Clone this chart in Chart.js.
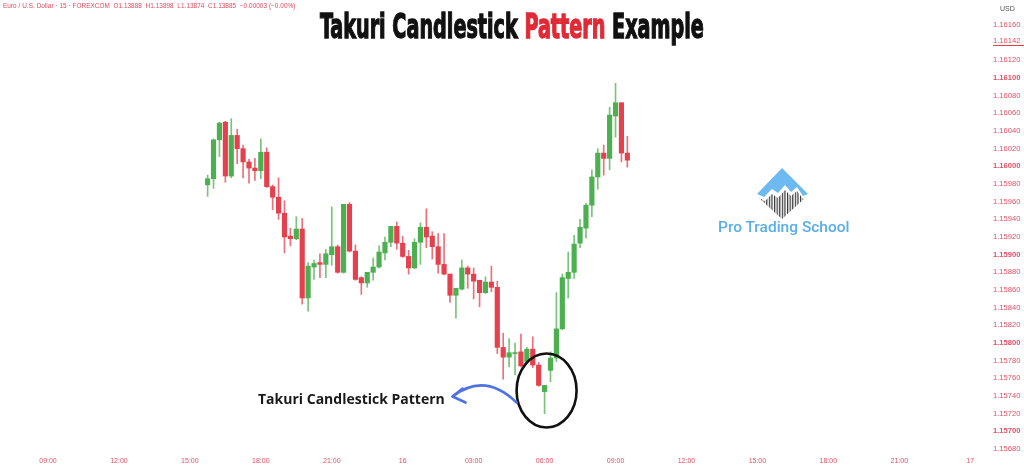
<!DOCTYPE html>
<html><head><meta charset="utf-8">
<script src="https://cdn.jsdelivr.net/npm/chart.js@4.4.0/dist/chart.umd.min.js"></script>
<style>
html,body{margin:0;padding:0;background:#fff;width:1024px;height:466px;overflow:hidden;}
#wrap{position:relative;width:1024px;height:466px;}
#c{position:absolute;left:0;top:0;}
.t{position:absolute;white-space:nowrap;}
#hdr{left:3px;top:2px;font:6.4px "Liberation Sans",Arial,sans-serif;color:#e04a5e;letter-spacing:0.05px;}
#title{left:0;top:6px;width:1024px;text-align:center;line-height:1.1;}
#title span{display:inline-block;font:bold 34px "DejaVu Sans Condensed","DejaVu Sans",sans-serif;color:#111;transform-origin:50% 50%;-webkit-text-stroke:1.3px #111;}
#title b{color:#e02a36;font-weight:bold;-webkit-text-stroke:1.3px #e02a36;}
#usd{left:1000px;top:5px;font:7px "Liberation Sans",Arial,sans-serif;color:#555;}
#ann{left:258px;top:389px;font:bold 14px "Open Sans",sans-serif;color:#1a1a1a;}
#brand{left:718px;top:218px;font:500 15.5px Roboto,sans-serif;color:#5aaee8;}
#logo{position:absolute;left:748px;top:163px;}
</style></head>
<body><div id="wrap">
<canvas id="c" width="1024" height="466"></canvas>
<div class="t" id="hdr">Euro / U.S. Dollar · 15 · FOREXCOM &nbsp;O1.13888 &nbsp;H1.13898 &nbsp;L1.13874 &nbsp;C1.13885 &nbsp;−0.00003 (−0.00%)</div>
<div class="t" id="title"><span id="ttl">Takuri Candlestick <b>Pattern</b> Example</span></div>
<div class="t" id="usd">USD</div>
<div class="t" id="ann">Takuri Candlestick Pattern</div>
<svg id="logo" width="66" height="60" viewBox="0 0 66 60">
<defs><pattern id="st" width="2.6" height="4" patternUnits="userSpaceOnUse"><rect x="0" y="0" width="1.2" height="4" fill="#333"/></pattern></defs>
<polygon points="34,5 60,31 55,33 49,24 43,29 37,22 30,30 24,26 16,34 9,31" fill="#6dbaf0"/>
<polygon points="11,35 17,38 24,31 30,35 37,27 43,33 49,28 55,36 58,34 34,56" fill="url(#st)"/>
</svg>
<div class="t" id="brand">Pro Trading School</div>
</div>
<script>
// 15-minute candles, EUR/USD, first candle at 15:45 (slot 27 counted from 09:00)
const opens  = [1.15979,1.15986,1.16030,1.16050,1.15989,1.16035,1.16020,1.16005,1.15998,1.15995,
                1.16016,1.15977,1.15965,1.15947,1.15921,1.15918,1.15929,1.15851,1.15886,1.15891,
                1.15889,1.15900,1.15909,1.15880,1.15957,1.15904,1.15874,1.15868,1.15880,1.15886,
                1.15902,1.15914,1.15932,1.15913,1.15898,1.15885,1.15914,1.15931,1.15921,1.15909,
                1.15889,1.15878,1.15854,1.15861,1.15885,1.15878,1.15871,1.15857,1.15869,1.15863,
                1.15795,1.15784,1.15788,1.15790,1.15779,1.15793,1.15775,1.15745,1.15769,1.15783,
                1.15816,1.15873,1.15880,1.15913,1.15930,1.15956,1.15988,1.16015,1.16009,1.16057,
                1.16072,1.16015];
const highs  = [1.15990,1.16031,1.16050,1.16051,1.16054,1.16042,1.16024,1.16008,1.16009,1.16031,
                1.16021,1.15979,1.15987,1.15961,1.15930,1.15943,1.15941,1.15891,1.15894,1.15901,
                1.15906,1.15954,1.15911,1.15957,1.15959,1.15911,1.15875,1.15880,1.15896,1.15910,
                1.15920,1.15932,1.15937,1.15921,1.15905,1.15918,1.15936,1.15952,1.15926,1.15924,
                1.15924,1.15878,1.15862,1.15894,1.15887,1.15885,1.15871,1.15875,1.15887,1.15870,
                1.15811,1.15805,1.15800,1.15810,1.15795,1.15807,1.15778,1.15752,1.15790,1.15857,
                1.15878,1.15903,1.15922,1.15940,1.15958,1.15996,1.16020,1.16024,1.16067,1.16094,
                1.16072,1.16034];
const lows   = [1.15966,1.15975,1.16011,1.15982,1.15987,1.16003,1.15987,1.15981,1.15984,1.15986,
                1.15976,1.15951,1.15940,1.15902,1.15910,1.15917,1.15844,1.15836,1.15872,1.15874,
                1.15874,1.15888,1.15879,1.15879,1.15903,1.15871,1.15855,1.15863,1.15871,1.15885,
                1.15894,1.15909,1.15906,1.15897,1.15878,1.15884,1.15889,1.15908,1.15895,1.15879,
                1.15877,1.15846,1.15828,1.15860,1.15862,1.15850,1.15841,1.15856,1.15858,1.15788,
                1.15759,1.15773,1.15764,1.15773,1.15778,1.15772,1.15751,1.15720,1.15756,1.15779,
                1.15815,1.15851,1.15873,1.15908,1.15919,1.15943,1.15974,1.15990,1.15996,1.16033,
                1.16005,1.15999];
const closes = [1.15986,1.16030,1.16049,1.15989,1.16035,1.16020,1.16005,1.15998,1.15995,1.16016,
                1.15977,1.15965,1.15947,1.15920,1.15918,1.15929,1.15851,1.15887,1.15890,1.15889,
                1.15901,1.15909,1.15880,1.15957,1.15904,1.15872,1.15868,1.15880,1.15886,1.15903,
                1.15914,1.15932,1.15913,1.15898,1.15885,1.15914,1.15931,1.15920,1.15909,1.15889,
                1.15878,1.15854,1.15862,1.15885,1.15878,1.15870,1.15857,1.15869,1.15863,1.15795,
                1.15784,1.15789,1.15789,1.15774,1.15793,1.15775,1.15752,1.15752,1.15783,1.15816,
                1.15874,1.15880,1.15912,1.15931,1.15956,1.15988,1.16015,1.16009,1.16058,1.16072,
                1.16015,1.16007];
const firstSlot = 27;
const takuriIndex = 57;
const xTickSlots  = [0,12,24,36,48,60,72,84,96,108,120,132,144,156];
const xTickLabels = ["09:00","12:00","15:00","18:00","21:00","16","03:00","06:00","09:00","12:00","15:00","18:00","21:00","17"];
const yTickValues = [1.1568,1.157,1.1572,1.1574,1.1576,1.1578,1.158,1.1582,1.1584,1.1586,1.1588,1.159,
                     1.1592,1.1594,1.1596,1.1598,1.16,1.1602,1.1604,1.1606,1.1608,1.161,1.1612,1.1616];
const lastPrice = 1.16142;

const GREEN='#4caf50', RED='#e5404e';
const GREEN_W='rgba(76,175,80,0.75)', RED_W='rgba(229,64,78,0.75)';
const up = opens.map((o,i)=> closes[i]>=o);
const col = up.map(u => u ? GREEN : RED);
const colW = up.map(u => u ? GREEN_W : RED_W);

const AREA_TOP = 0, AREA_BOTTOM = 452;

const overlay = {
  id:'overlay',
  afterDraw(chart){
    const {ctx, scales:{x,y}} = chart;
    const yp = Math.round(y.getPixelForValue(lastPrice)+4)+0.5;
    ctx.save();
    ctx.strokeStyle='#e5404e'; ctx.lineWidth=1;
    ctx.beginPath(); ctx.moveTo(x.right+8, yp); ctx.lineTo(1024, yp); ctx.stroke();
    const cx = x.getPixelForValue(firstSlot+takuriIndex)+2;
    const cy = (y.getPixelForValue(highs[takuriIndex])+y.getPixelForValue(lows[takuriIndex]))/2-9;
    ctx.strokeStyle='#111'; ctx.lineWidth=2.6;
    ctx.beginPath(); ctx.ellipse(cx, cy, 30, 37, 0, 0, Math.PI*2); ctx.stroke();
    const sx = cx-30, sy = cy+12, tx = cx-94, ty = cy+6;
    ctx.strokeStyle='#4f72e3'; ctx.lineWidth=2.6; ctx.lineCap='round'; ctx.lineJoin='round';
    ctx.beginPath(); ctx.moveTo(sx, sy); ctx.quadraticCurveTo(cx-62, cy-19, tx, ty); ctx.stroke();
    ctx.beginPath(); ctx.moveTo(tx+10, ty-8); ctx.lineTo(tx, ty); ctx.lineTo(tx+13, ty+6); ctx.stroke();
    ctx.restore();
  }
};

function isMajor(v){ return Math.abs(v*1000 - Math.round(v*1000)) < 1e-6; }

const chart = new Chart(document.getElementById('c'), {
  type:'bar',
  data:{datasets:[
    {label:'body', data: opens.map((o,i)=>({x:firstSlot+i, y:[o, closes[i]]})),
     backgroundColor: col, barThickness:4.5, minBarLength:1, grouped:false},
    {label:'wick', data: opens.map((o,i)=>({x:firstSlot+i, y:[lows[i], highs[i]]})),
     backgroundColor: colW, barThickness:1, grouped:false}
  ]},
  options:{
    responsive:false, animation:false,
    layout:{padding:{top:0,bottom:0,left:0,right:0}, autoPadding:false},
    plugins:{legend:{display:false}, tooltip:{enabled:false}, title:{display:false}},
    scales:{
      x:{type:'linear', min:-8.12, max:158.5, offset:false,
         grid:{display:false, drawTicks:false, tickLength:0}, border:{display:false},
         afterBuildTicks: s => { s.ticks = xTickSlots.map(v=>({value:v})); },
         afterFit: s => { s.height = 14; s.paddingLeft = 0; s.paddingRight = 0; },
         ticks:{autoSkip:false, maxRotation:0, padding:5, color:'#e05068',
                font:{size:7, family:'"Liberation Sans", Arial, sans-serif'},
                callback: v => xTickLabels[xTickSlots.indexOf(v)]}},
      y:{position:'right', min:1.156766, max:1.161883,
         grid:{display:false, drawTicks:false, tickLength:0}, border:{display:false},
         afterBuildTicks: s => { s.ticks = [...yTickValues, lastPrice].sort((a,b)=>a-b).map(v=>({value:v})); },
         afterFit: s => { s.width = 39; s.paddingTop = 0; s.paddingBottom = 0; },
         ticks:{autoSkip:false, padding:8, color:'#e05068',
                font: c => ({size:7.6, family:'"Liberation Sans", Arial, sans-serif',
                  weight: (c && c.tick && isMajor(c.tick.value)) ? 'bold' : 'normal'}),
                callback: v => Number(v).toFixed(5)}}
    }
  },
  plugins:[overlay]
});

const dt = chart.chartArea.top - AREA_TOP, db = AREA_BOTTOM - chart.chartArea.bottom;
if (Math.abs(dt) > 0.3 || Math.abs(db) > 0.3) {
  chart.options.layout.padding = {top: -dt, bottom: db, left:0, right:0};
  chart.update();
}

const ttl = document.getElementById('ttl');
const w = ttl.getBoundingClientRect().width;
ttl.style.transform = 'scaleX(' + (384/w) + ')';
</script>
</body></html>
